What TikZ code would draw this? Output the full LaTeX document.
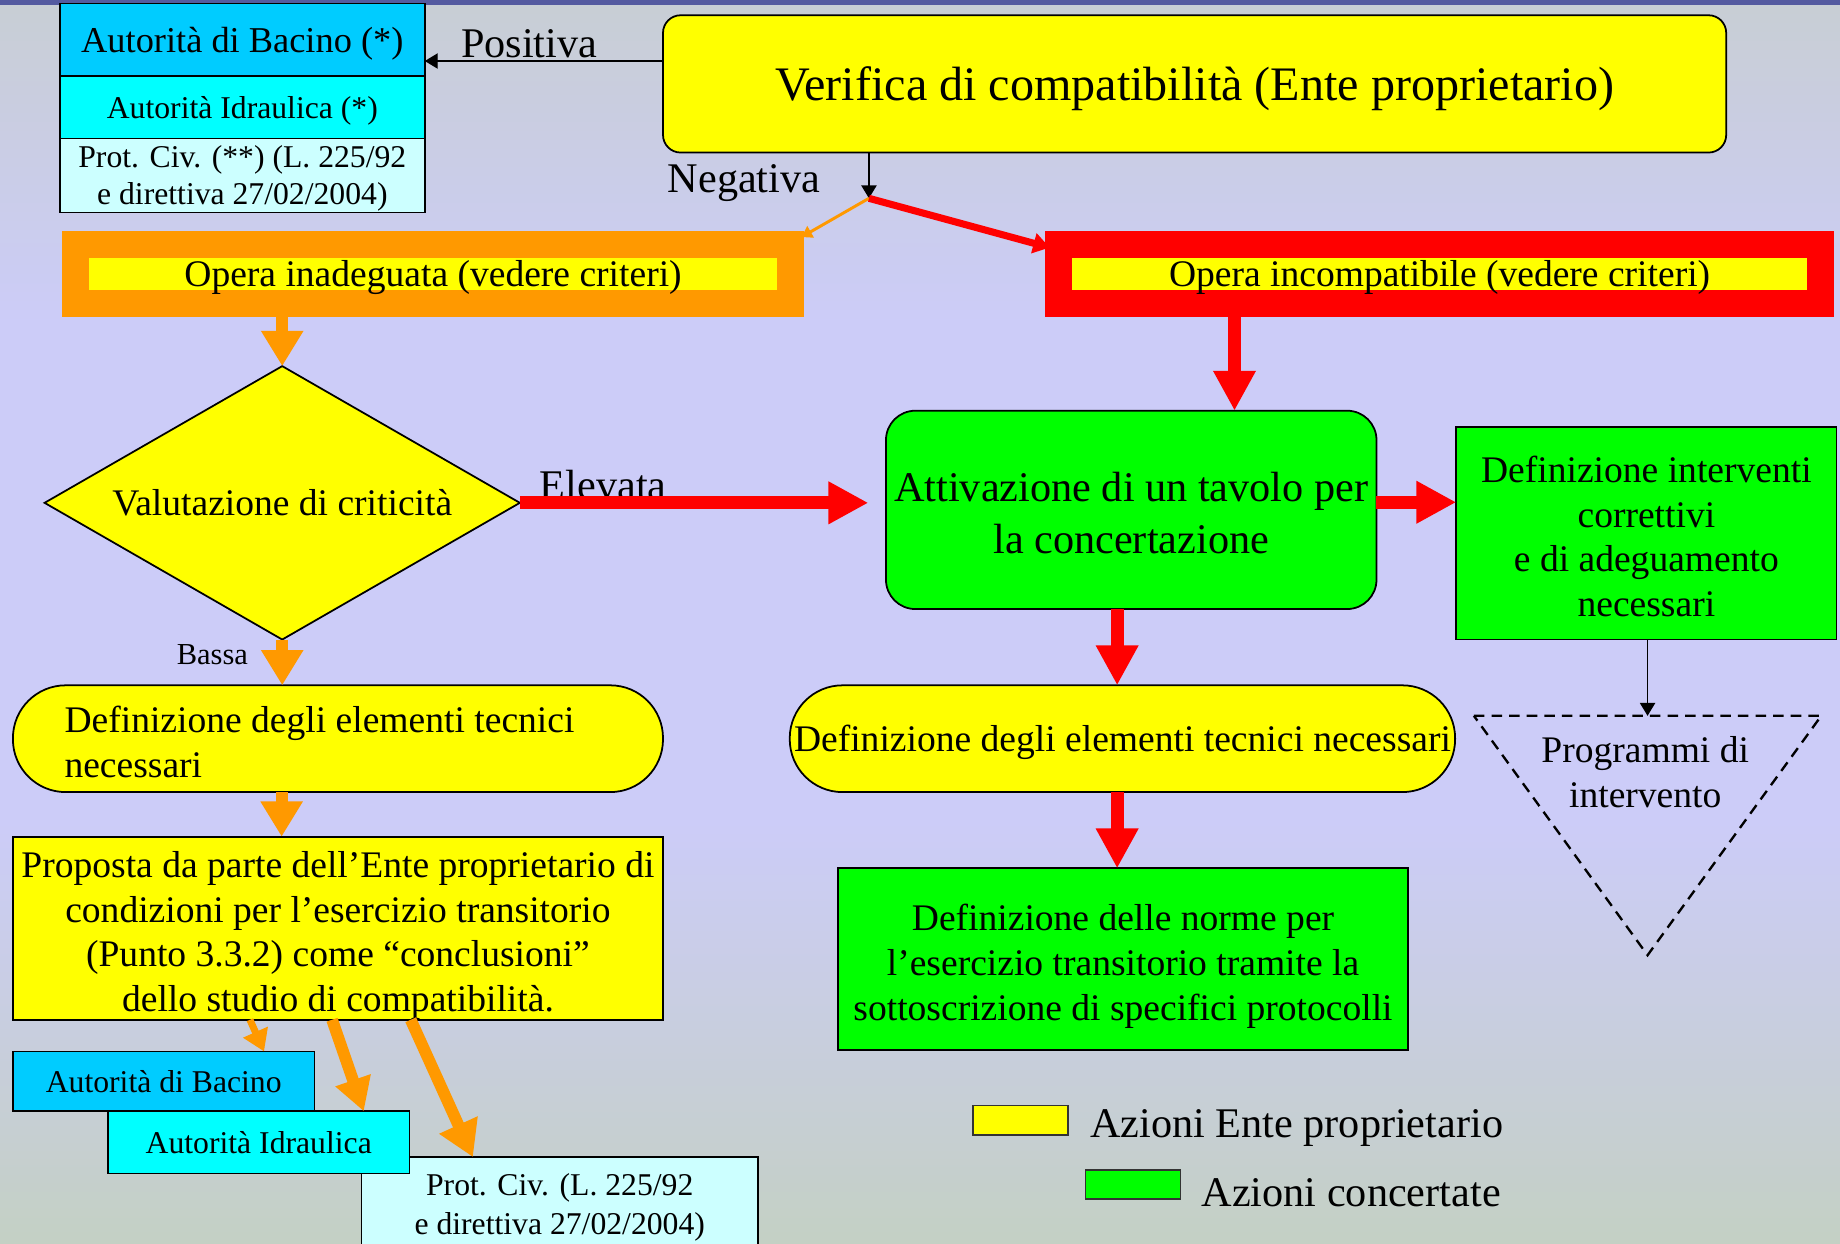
\documentclass[tikz,border=0pt]{standalone}
\usepackage{fontspec}
\setmainfont{Liberation Serif}
\usetikzlibrary{arrows.meta,shapes.geometric}

\definecolor{bgtop}{RGB}{200,206,212}
\definecolor{bgmid}{RGB}{204,204,248}
\definecolor{bgbot}{RGB}{196,208,196}
\definecolor{ybox}{RGB}{255,255,0}
\definecolor{gbox}{RGB}{0,255,0}
\definecolor{sky}{RGB}{0,204,255}
\definecolor{cyanb}{RGB}{0,255,255}
\definecolor{lcyan}{RGB}{204,255,255}
\definecolor{orng}{RGB}{255,153,0}
\definecolor{redb}{RGB}{255,0,0}
\definecolor{navyband}{RGB}{84,90,160}

\newcommand\myfs[2]{\fontsize{#1}{#2}\selectfont}
\newcommand\st{\rule[-0.216em]{0pt}{1.107em}}
\newcommand\stt{\rule[-0.216em]{0pt}{\dimexpr 1.107em+6pt\relax}}

% the path is fitted to 25bp..75bp of the shading
\pgfdeclareverticalshading{bgsh}{100bp}{color(0bp)=(bgbot); color(25bp)=(bgbot); color(42bp)=(bgmid); color(62bp)=(bgmid); color(75bp)=(bgtop); color(100bp)=(bgtop)}

\tikzset{
  box/.style={draw=black, line width=1.5pt, inner sep=0pt, outer sep=0pt, align=center, font=\myfs{32}{38}},
  legbox/.style={draw=black!80, line width=1.5pt, inner sep=0pt, outer sep=0pt, minimum width=81pt, minimum height=25pt},
  lbl/.style={inner sep=0pt, outer sep=0pt, font=\myfs{36}{40}},
  oarrow/.style={draw=orng, color=orng, line width=10pt, -{Triangle[width=34pt,length=30pt]}},
  rarrow/.style={draw=redb, color=redb, line width=11pt, -{Triangle[width=34pt,length=34pt]}},
  thinarrow/.style={draw=black, line width=1.2pt, -{Triangle[width=13pt,length=11pt]}},
  bandbox/.style={line width=23pt, fill=ybox, minimum height=50pt, inner sep=0pt, outer sep=11.5pt, font=\myfs{32}{38}}
}

\begin{document}
\begin{tikzpicture}[x=1pt,y=-1pt]
\useasboundingbox (0,0) rectangle (1568,1060);
\shade[shading=bgsh] (0,0) rectangle (1568,1060);
\fill[navyband] (0,0) rectangle (1568,4);

% top-left stack
\node[box, fill=sky, minimum width=311pt, minimum height=62pt, font=\myfs{31}{36}] (bacinoT) at (206.5,34) {\st Autorità di Bacino (*)\st};
\node[box, fill=cyanb, minimum width=311pt, minimum height=53pt, font=\myfs{27}{32}] (idrT) at (206.5,91.5) {\st Autorità Idraulica (*)\st};
\node[box, fill=lcyan, minimum width=311pt, minimum height=63pt, font=\myfs{27}{32}] (protT) at (206.5,149.5) {\st Prot. Civ. (**) (L. 225/92\\e direttiva 27/02/2004)\st};

% verifica
\node[box, fill=ybox, rounded corners=15pt, minimum width=906pt, minimum height=117pt, font=\myfs{41}{48}] (verif) at (1018,71.5) {\st Verifica di compatibilità (Ente proprietario)\st};

\node[lbl] (pos) at (451,37) {Positiva};
\node[lbl] (neg) at (634,156) {Negativa};
\coordinate (pa) at (0,52);
\coordinate (split) at (740.5,169);

% band boxes
\node[bandbox, draw=orng, minimum width=609pt] (inad) at (369,233.5) {\st Opera inadeguata (vedere criteri)\st};
\node[bandbox, draw=redb, minimum width=649.5pt] (incomp) at (1226.75,233.5) {\st Opera incompatibile (vedere criteri)\st};

% diamond
\node[box, diamond, aspect=1.738, fill=ybox, minimum width=405pt, minimum height=233pt] (crit) at (240.5,428.5) {\st Valutazione di criticità\st};
\node[lbl] (elev) at (514,413) {Elevata};

% concertazione
\node[box, fill=gbox, rounded corners=25pt, minimum width=418pt, minimum height=169pt, font=\myfs{36}{44}] (attiv) at (964,434.5) {\stt Attivazione di un tavolo per\\la concertazione\st};
\node[box, fill=gbox, minimum width=324pt, minimum height=181pt] (interv) at (1403,454.5) {\stt Definizione interventi\\correttivi\\e di adeguamento\\necessari\st};

% triangle
\coordinate (pt1) at (1256,610);
\coordinate (pt2) at (1552,610);
\coordinate (pt3) at (1404,814);
\coordinate (progtop) at (1404,610);
\draw[line width=2pt, dash pattern=on 9pt off 6pt] (pt1) -- (pt2) -- (pt3) -- cycle;
\node[inner sep=0pt, align=center, font=\myfs{32}{38}] (prog) at (1402,658) {Programmi di\\intervento};

% left column
\node[inner sep=0pt, font=\myfs{26}{30}] (bassa) at (181,558) {Bassa};
\node[box, fill=ybox, rounded corners=45pt, minimum width=554pt, minimum height=91pt, text width=466pt, align=flush left] (defL) at (288,629.5) {\stt Definizione degli elementi tecnici\\necessari\st};
\node[box, fill=ybox, minimum width=554pt, minimum height=156pt] (prop) at (288,791) {\stt Proposta da parte dell’Ente proprietario di\\condizioni per l’esercizio transitorio\\(Punto 3.3.2) come “conclusioni”\\dello studio di compatibilità.\st};

\node[box, fill=lcyan, minimum width=338pt, minimum height=80pt, font=\myfs{27}{33}] (protB) at (477,1026) {\st Prot. Civ. (L. 225/92\\e direttiva 27/02/2004)\st};
\node[box, fill=cyanb, minimum width=257pt, minimum height=53pt, font=\myfs{27}{32}] (idrB) at (220.5,973.5) {\st Autorità Idraulica\st};
\node[box, fill=sky, minimum width=257pt, minimum height=51pt, font=\myfs{27}{32}] (bacinoB) at (139.5,921.5) {\st Autorità di Bacino\st};

% middle column
\node[box, fill=ybox, rounded corners=45pt, minimum width=567pt, minimum height=91pt] (defM) at (956.5,629.5) {\st Definizione degli elementi tecnici necessari\st};
\node[box, fill=gbox, minimum width=486pt, minimum height=155pt] (norme) at (957,817.5) {\stt Definizione delle norme per\\l’esercizio transitorio tramite la\\sottoscrizione di specifici protocolli\st};

% legend
\node[legbox, fill=ybox] (legY) at (869.5,954.5) {};
\node[lbl, anchor=west] (legYt) at (929,961) {Azioni Ente proprietario};
\node[legbox, fill=gbox] (legG) at (965.5,1009.5) {};
\node[lbl, anchor=west] (legGt) at (1024,1016) {Azioni concertate};

% connectors
\coordinate (cr) at (1052,0);
\coordinate (rr) at (0,428);
\coordinate (cl) at (240,0);
\coordinate (cm) at (952,0);

\draw[thinarrow] (verif.west |- pa) -- (bacinoT.east |- pa);
\draw[thinarrow] (verif.south -| split) -- (split);
\draw[orng, line width=2.5pt, -{Triangle[width=11pt,length=9pt]}] (split) -- ([yshift=-5pt,xshift=-2pt]inad.north east);
\draw[redb, line width=6pt, -{Triangle[width=17pt,length=14pt]}] (split) -- ([yshift=-14pt,xshift=4pt]incomp.north west);

\draw[oarrow] (inad.south -| crit.north) -- (crit.north);
\draw[rarrow] (incomp.south -| cr) -- (attiv.north -| cr);
\draw[rarrow, shorten >=15pt] (crit.east) -- (attiv.west |- crit.east);
\draw[rarrow] (attiv.east |- rr) -- (interv.west |- rr);
\draw[thinarrow] (interv.south -| progtop) -- (progtop);

\draw[oarrow] (crit.south) -- (crit.south |- defL.north);
\draw[oarrow] (defL.south -| cl) -- (prop.north -| cl);
\draw[orng, line width=6pt, -{Triangle[width=22pt,length=18pt]}] ([xshift=-75pt]prop.south) -- ([xshift=85.5pt]bacinoB.north);
\draw[oarrow, -{Triangle[width=30pt,length=28pt]}] ([xshift=-5pt]prop.south) -- ([xshift=89.5pt]idrB.north);
\draw[oarrow] ([xshift=62pt]prop.south) -- ([xshift=-74pt]protB.north);

\draw[rarrow] (attiv.south -| cm) -- (defM.north -| cm);
\draw[rarrow] (defM.south -| cm) -- (norme.north -| cm);
\end{tikzpicture}
\end{document}
